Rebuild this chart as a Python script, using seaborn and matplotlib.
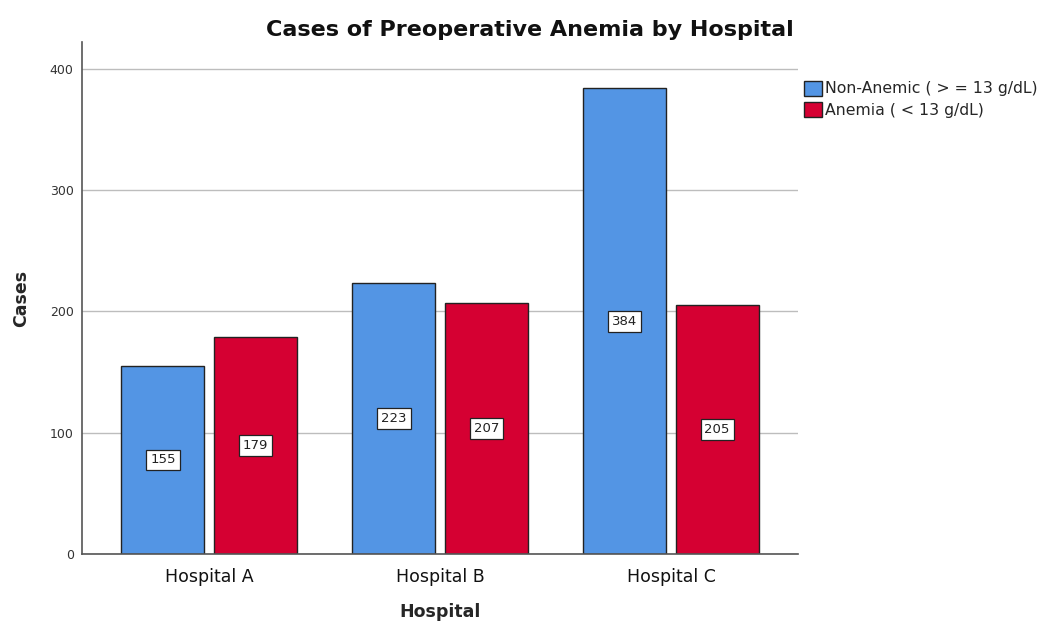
import matplotlib
matplotlib.use("Agg")
import matplotlib.pyplot as plt
import seaborn as sns
import pandas as pd

hospitals = ["Hospital A", "Hospital B", "Hospital C"]
groups = ["Non-Anemic ( > = 13 g/dL)", "Anemia ( < 13 g/dL)"]
non_anemic = [155, 223, 384]
anemia = [179, 207, 205]
colors = ["#5395E4", "#D50032"]

df = pd.DataFrame({
    "Hospital": hospitals * 2,
    "Group": [groups[0]] * 3 + [groups[1]] * 3,
    "Cases": non_anemic + anemia,
})

sns.set_theme(style="white")
plt.rcParams["font.family"] = ["DejaVu Sans"]

fig = plt.figure(figsize=(10.53, 6.34), dpi=100)
ax = fig.add_axes([82 / 1053, 1 - 554 / 634, 716 / 1053, 512 / 634])

sns.barplot(data=df, x="Hospital", y="Cases", hue="Group", order=hospitals,
            hue_order=groups, palette=colors, width=0.8, gap=0.1,
            edgecolor="#222222", linewidth=1.0, saturation=1, errorbar=None, ax=ax)

# value labels at half height
for cont in ax.containers:
    for bar in cont:
        h = bar.get_height()
        ax.text(bar.get_x() + bar.get_width() / 2, h / 2, f"{int(h)}",
                ha="center", va="center", fontsize=9.5, color="#222222",
                bbox=dict(boxstyle="square,pad=0.3", fc="white", ec="#222222", lw=0.9))

ax.set_xlim(-0.55, 2.55)
ax.set_ylim(0, 422)
ax.set_yticks([0, 100, 200, 300, 400])
ax.yaxis.grid(True, color="#BDBDBD", lw=1)
ax.set_axisbelow(True)
for s in ["top", "right"]:
    ax.spines[s].set_visible(False)
for s in ["left", "bottom"]:
    ax.spines[s].set_color("#555555")
    ax.spines[s].set_linewidth(1.2)
ax.tick_params(axis="y", labelsize=9, labelcolor="#333333", length=0, pad=6)
ax.tick_params(axis="x", labelsize=12.5, labelcolor="#111111", length=0, pad=10)
ax.set_xlabel("Hospital", fontsize=12.5, fontweight="bold", labelpad=12)
ax.set_ylabel("Cases", fontsize=12.5, fontweight="bold", labelpad=14)

fig.suptitle("Cases of Preoperative Anemia by Hospital", x=0.503, y=0.968,
             fontsize=16, fontweight="bold", color="#111111")

ax.legend(loc="upper left", bbox_to_anchor=(1.0, 0.937), frameon=False,
          fontsize=11.3, handlelength=1.1, handleheight=1.1, handletextpad=0.25,
          labelspacing=0.35, borderaxespad=0.0)

fig.savefig("out.png", dpi=100)
